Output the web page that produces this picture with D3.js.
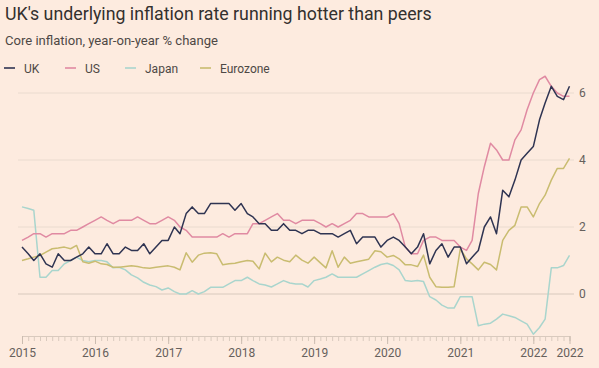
<!DOCTYPE html>
<html><head><meta charset="utf-8">
<script src="https://cdn.jsdelivr.net/npm/d3@7"></script>
<style>
html,body{margin:0;padding:0;background:#fdebdf;}
svg{display:block;font-family:Roboto,"Noto Sans",sans-serif;}
</style></head>
<body><svg id="c" width="599" height="368"></svg>
<script>
// ---- data (monthly, Jan 2015 - Jul 2022) ----
const startMonth = [2015, 0];
const uk = [1.4,1.2,1.0,1.2,0.9,0.8,1.2,1.0,1.0,1.1,1.2,1.4,
  1.2,1.2,1.5,1.2,1.2,1.4,1.3,1.3,1.5,1.2,1.4,1.6,
  1.6,2.0,1.8,2.4,2.6,2.4,2.4,2.7,2.7,2.7,2.7,2.5,
  2.7,2.4,2.3,2.1,2.1,1.9,1.9,2.1,1.9,1.9,1.8,1.9,
  1.9,1.8,1.8,1.8,1.7,1.8,1.9,1.5,1.7,1.7,1.7,1.4,
  1.6,1.7,1.6,1.4,1.2,1.4,1.8,0.9,1.3,1.5,1.1,1.4,
  1.4,0.9,1.1,1.3,2.0,2.3,1.8,3.1,2.9,3.4,4.0,4.2,
  4.4,5.2,5.7,6.2,5.9,5.8,6.2];
const us = [1.6,1.7,1.8,1.8,1.7,1.8,1.8,1.8,1.9,1.9,2.0,2.1,
  2.2,2.3,2.2,2.1,2.2,2.2,2.2,2.3,2.2,2.1,2.1,2.2,
  2.3,2.2,2.0,1.9,1.7,1.7,1.7,1.7,1.7,1.8,1.7,1.8,
  1.8,1.8,2.1,2.1,2.2,2.3,2.4,2.2,2.2,2.1,2.2,2.2,
  2.2,2.1,2.0,2.1,2.0,2.1,2.2,2.4,2.4,2.3,2.3,2.3,
  2.3,2.4,2.1,1.4,1.2,1.2,1.6,1.7,1.7,1.6,1.6,1.6,
  1.4,1.3,1.6,3.0,3.8,4.5,4.3,4.0,4.0,4.6,4.9,5.5,
  6.0,6.4,6.5,6.2,6.0,5.9,5.9];
const japan = [2.6,2.55,2.5,0.5,0.5,0.7,0.7,0.9,1.0,1.1,1.0,0.96,
  1.0,1.0,0.96,0.78,0.8,0.72,0.57,0.48,0.35,0.27,0.22,0.12,
  0.18,0.07,0.0,0.0,0.1,0.0,0.07,0.2,0.2,0.2,0.3,0.4,
  0.4,0.5,0.4,0.3,0.27,0.21,0.3,0.4,0.33,0.3,0.3,0.21,
  0.4,0.45,0.5,0.6,0.5,0.5,0.5,0.5,0.6,0.7,0.8,0.88,
  0.92,0.85,0.72,0.4,0.38,0.4,0.37,-0.08,-0.18,-0.33,-0.42,-0.42,
  -0.08,-0.08,-0.08,-0.95,-0.9,-0.87,-0.75,-0.6,-0.65,-0.7,-0.8,-0.9,
  -1.2,-1.0,-0.75,0.78,0.78,0.85,1.15];
const eurozone = [1.0,1.05,1.1,1.15,1.25,1.35,1.37,1.4,1.35,1.45,0.96,0.92,
  0.98,0.9,0.88,0.8,0.8,0.82,0.84,0.82,0.78,0.77,0.8,0.82,
  0.84,0.8,0.72,1.23,0.95,1.16,1.22,1.23,1.2,0.87,0.9,0.92,
  0.96,1.0,0.98,0.75,1.22,0.96,1.1,1.01,0.96,1.16,1.01,0.92,
  1.1,0.93,0.78,1.29,0.8,1.1,0.92,0.96,1.0,1.04,1.29,1.26,
  1.1,1.15,1.05,0.87,0.87,0.82,1.16,0.5,0.22,0.2,0.2,0.22,
  1.35,1.05,0.9,0.72,0.95,0.88,0.72,1.6,1.9,2.05,2.6,2.6,
  2.3,2.7,2.95,3.4,3.75,3.75,4.05];
const seriesNames = ["UK","US","Japan","Eurozone"];
const seriesColors = ["#2f3452","#e08aa2","#a9d5cd","#c9bc70"];
const yTicks = [0,2,4,6];
const xTickLabels = ["2015","2016","2017","2018","2019","2020","2021","2022","2022"];
const xTickDates = [[2015,0],[2016,0],[2017,0],[2018,0],[2019,0],[2020,0],[2021,0],[2022,0],[2022,6]];
const title = "UK's underlying inflation rate running hotter than peers";
const subtitle = "Core inflation, year-on-year % change";

// ---- build ----
const allSeries = [uk, us, japan, eurozone];
const t0 = new Date(startMonth[0], startMonth[1], 1);
const dates = uk.map((_, i) => d3.timeMonth.offset(t0, i));
const svg = d3.select("#c");

const x = d3.scaleTime().domain([dates[0], dates[dates.length-1]]).range([22, 569.5]);
const y = d3.scaleLinear().domain([0, 6]).range([294, 93]);

// title / subtitle
function fit(sel, target){
  const w = sel.node().getComputedTextLength();
  const fs = parseFloat(sel.attr("font-size"));
  sel.attr("font-size", (fs*target/w).toFixed(2));
}
const tt = svg.append("text").attr("x",5).attr("y",20).attr("font-size",18).attr("fill","#33302e").text(title);
fit(tt, 427);
const st = svg.append("text").attr("x",5).attr("y",45).attr("font-size",13).attr("fill","#4d4845").text(subtitle);
fit(st, 213);

// legend
const legX = [4, 65, 125, 200];
seriesNames.forEach((n,i)=>{
  const g = svg.append("g").attr("transform",`translate(${legX[i]},68)`);
  g.append("line").attr("x1",0).attr("x2",11).attr("y1",0).attr("y2",0)
    .attr("stroke",seriesColors[i]).attr("stroke-width",1.6);
  g.append("text").attr("x",20).attr("y",4.5).attr("font-size",12).attr("fill","#4d4845").text(n);
});

// gridlines
svg.append("g").selectAll("line").data(yTicks).join("line")
  .attr("x1",18).attr("x2",574).attr("y1",d=>y(d)).attr("y2",d=>y(d))
  .attr("stroke", d=> d===0 ? "#d8c9bd" : "#eadbcf").attr("stroke-width",1);

// y axis labels (right)
const yAxis = d3.axisRight(y).tickValues(yTicks).tickSize(0).tickPadding(0).tickFormat(d3.format("d"));
const ya = svg.append("g").attr("transform","translate(579,0)").call(yAxis);
ya.select(".domain").remove();
ya.selectAll("text").attr("font-size",12).attr("fill","#66605c").attr("font-family","Roboto,sans-serif");

// x axis: monthly minor ticks
const yBase = 336;
const months = d3.timeMonth.range(dates[0], d3.timeMonth.offset(dates[dates.length-1],1));
const xMinor = d3.axisBottom(x).tickValues(months).tickSize(5).tickFormat("");
const xm = svg.append("g").attr("transform",`translate(0,${yBase})`).call(xMinor);
xm.select(".domain").attr("stroke","#d9cabe");
xm.selectAll(".tick line").attr("stroke","#d9cabe");
const majorDates = xTickDates.map(d=>new Date(d[0],d[1],1));
const xMajor = d3.axisBottom(x).tickValues(majorDates).tickSize(8).tickPadding(4)
  .tickFormat((d,i)=>xTickLabels[i]);
const xM = svg.append("g").attr("transform",`translate(0,${yBase})`).call(xMajor);
xM.select(".domain").remove();
xM.selectAll(".tick line").attr("stroke","#cbbcb0");
xM.selectAll("text").attr("font-size",12).attr("fill","#66605c").attr("font-family","Roboto,sans-serif");

// lines (draw order: Japan, Eurozone, US, UK)
const line = d3.line().x((d,i)=>x(dates[i])).y(d=>y(d));
[2,3,1,0].forEach(k=>{
  svg.append("path").datum(allSeries[k]).attr("d",line)
    .attr("fill","none").attr("stroke",seriesColors[k]).attr("stroke-width",1.5)
    .attr("stroke-linejoin","round");
});
</script></body></html>
